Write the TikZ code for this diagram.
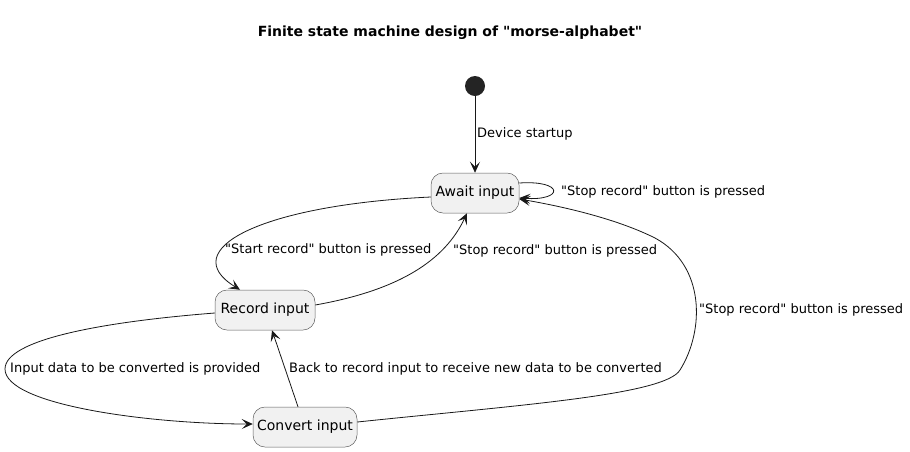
\documentclass[tikz,border=0pt]{standalone}
\usepackage{fontspec}
\setmainfont{DejaVu Sans}[Ligatures=TeXOff]
\usetikzlibrary{arrows.meta}
\definecolor{statefill}{HTML}{F1F1F1}
\definecolor{lineclr}{HTML}{181818}
\begin{document}
\begin{tikzpicture}[x=1pt,y=-1pt,
	state_node/.style={draw=lineclr!70,fill=statefill,rounded corners=12pt,line width=0.5pt,minimum height=40pt,inner sep=0pt,font=\fontsize{14}{16}\selectfont},
	edge_label/.style={anchor=west,inner sep=0pt,font=\fontsize{13}{15}\selectfont},
	trans/.style={draw=lineclr,line width=0.8pt,-{Stealth[length=11pt,width=10pt,inset=5pt]}}]
		
		\useasboundingbox (0,0) rectangle (910,451);
		\node[font=\bfseries\fontsize{14}{16}\selectfont] (title) at (450,33) {Finite state machine design of "morse-alphabet"};
		
		\node[circle,fill=lineclr!95,minimum size=20pt,inner sep=0pt] (start) at (475,86) {};
		\node[state_node,minimum width=88pt] (await) at (475,193) {Await input};
		\node[state_node,minimum width=100pt] (record) at (265,310) {Record input};
		\node[state_node,minimum width=104pt] (convert) at (305,427) {Convert input};
		
		\node[edge_label] (l_start) at (477,134) {Device startup};
		\node[edge_label] (l_self) at (561,192) {"Stop record" button is pressed};
		\node[edge_label] (l_rec) at (225,250) {"Start record" button is pressed};
		\node[edge_label] (l_stop) at (453,251) {"Stop record" button is pressed};
		\node[edge_label] (l_far) at (699,310) {"Stop record" button is pressed};
		\node[edge_label] (l_conv) at (10,369) {Input data to be converted is provided};
		\node[edge_label] (l_back) at (289,369) {Back to record input to receive new data to be converted};
		
		\draw[trans] ([yshift=10pt]await.east) .. controls +(45,-3) and +(45,3) .. ([yshift=-5pt]await.east);
		\draw[trans] (start) -- (await.north);
		\draw[trans] ([yshift=-4pt]await.west) .. controls (260,205) and (175,250) .. ([xshift=-25pt]record.north);
		\draw[trans] ([yshift=5pt]record.east) .. controls (400,290) and (445,260) .. ([xshift=-8pt]await.south);
		\draw[trans] ([yshift=5pt]convert.east) .. controls (520,405) and (665,395) .. (680,370) .. controls (705,330) and (705,265) .. (655,238) .. controls (615,218) and (560,206) .. ([yshift=-6pt]await.east);
		\draw[trans] ([yshift=-3pt]record.west) .. controls (100,322) and (5,340) .. (5,369) .. controls (5,405) and (150,424) .. ([yshift=3pt]convert.west);
		\draw[trans] ([xshift=-7pt]convert.north) -- ([xshift=7pt]record.south);
		\end{tikzpicture}
\end{document}
